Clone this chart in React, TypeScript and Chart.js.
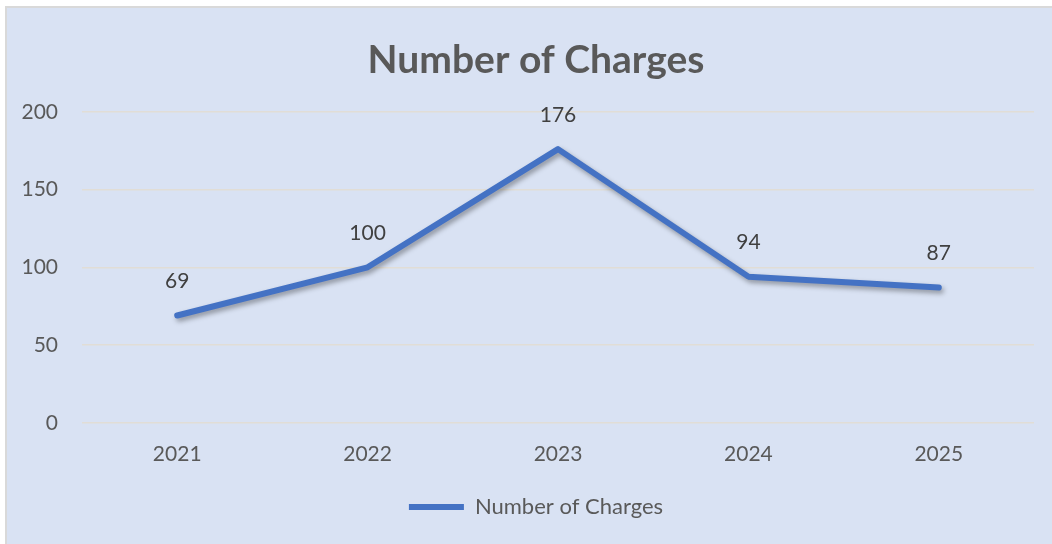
import React, { useEffect, useRef } from "react";
import { Chart, registerables } from "chart.js";

Chart.register(...registerables);

const categories = ["2021", "2022", "2023", "2024", "2025"];
const charges = [69, 100, 176, 94, 87];
const seriesName = "Number of Charges";
const chartTitle = "Number of Charges";

const FONT = "Lato, 'Open Sans', sans-serif";
const BG = "#d9e2f3";

const bgPlugin = {
  id: "bgFill",
  beforeDraw(chart: any) {
    const ctx = chart.ctx;
    ctx.save();
    ctx.fillStyle = BG;
    ctx.fillRect(0, 0, chart.width, chart.height);
    ctx.restore();
  },
};

const shadowPlugin = {
  id: "lineShadow",
  beforeDatasetsDraw(chart: any) {
    const ctx = chart.ctx;
    ctx.save();
    ctx.shadowColor = "rgba(0,0,0,0.35)";
    ctx.shadowBlur = 5;
    ctx.shadowOffsetX = 2;
    ctx.shadowOffsetY = 3;
  },
  afterDatasetsDraw(chart: any) {
    chart.ctx.restore();
  },
};

const labelPlugin = {
  id: "valueLabels",
  afterDatasetsDraw(chart: any) {
    const ctx = chart.ctx;
    const meta = chart.getDatasetMeta(0);
    const data = chart.data.datasets[0].data as number[];
    ctx.save();
    ctx.fillStyle = "#404040";
    ctx.font = `21px ${FONT}`;
    ctx.textAlign = "center";
    ctx.textBaseline = "middle";
    meta.data.forEach((pt: any, i: number) => {
      ctx.fillText(String(data[i]), pt.x, pt.y - 34);
    });
    ctx.restore();
  },
};

export default function App() {
  const ref = useRef<HTMLCanvasElement>(null);

  useEffect(() => {
    if (!ref.current) return;
    const chart = new Chart(ref.current, {
      type: "line",
      data: {
        labels: categories,
        datasets: [
          {
            label: seriesName,
            data: charges,
            borderColor: "#4472c4",
            backgroundColor: "#4472c4",
            borderWidth: 6,
            pointRadius: 0,
            pointHoverRadius: 0,
            tension: 0,
            borderCapStyle: "round",
            borderJoinStyle: "round",
            yAxisID: "y",
          },
        ],
      },
      options: {
        animation: false,
        responsive: false,
        devicePixelRatio: 1,
        layout: { padding: { left: 13, right: 0, top: 0, bottom: 16 } },
        plugins: {
          title: {
            display: true,
            text: chartTitle,
            color: "#595959",
            font: { family: FONT, size: 39, weight: "bold" },
            padding: { top: 29, bottom: 28 },
          },
          legend: {
            display: true,
            position: "bottom",
            labels: {
              color: "#595959",
              font: { family: FONT, size: 22 },
              boxWidth: 55,
              boxHeight: 6,
              padding: 10,
              generateLabels: () => [
                {
                  text: seriesName,
                  fillStyle: "#4472c4",
                  strokeStyle: "#4472c4",
                  lineWidth: 0,
                  hidden: false,
                  datasetIndex: 0,
                  fontColor: "#595959",
                } as any,
              ],
            },
          },
          tooltip: { enabled: false },
        },
        scales: {
          x: {
            offset: true,
            grid: { display: false, drawTicks: false },
            border: { display: false },
            ticks: {
              color: "#595959",
              font: { family: FONT, size: 21 },
              padding: 19,
            },
          },
          y: {
            position: "left",
            min: 0,
            max: 200,
            grid: { color: "#e1ddd6", lineWidth: 1.5, drawTicks: false },
            border: { display: false },
            ticks: {
              stepSize: 50,
              color: "#595959",
              font: { family: FONT, size: 21 },
              padding: 24,
            },
            afterFit(scale: any) {
              scale.width = 62;
            },
          },
          yRightSpace: {
            position: "right",
            min: 0,
            max: 200,
            grid: { display: false, drawTicks: false },
            border: { display: false },
            ticks: { display: false },
            afterFit(scale: any) {
              scale.width = 18;
            },
          },
        },
      },
      plugins: [bgPlugin, shadowPlugin, labelPlugin],
    });
    return () => chart.destroy();
  }, []);

  return (
    <div
      style={{
        position: "fixed",
        left: 0,
        top: 0,
        width: 1052,
        height: 544,
        background: "#ffffff",
        overflow: "hidden",
      }}
    >
      <div
        style={{
          position: "absolute",
          left: 5,
          top: 6,
          width: 1100,
          height: 600,
          background: "#d9d9d9",
        }}
      />
      <canvas
        ref={ref}
        width={1045}
        height={536}
        style={{ position: "absolute", left: 7, top: 8, width: 1045, height: 536 }}
      />
    </div>
  );
}
